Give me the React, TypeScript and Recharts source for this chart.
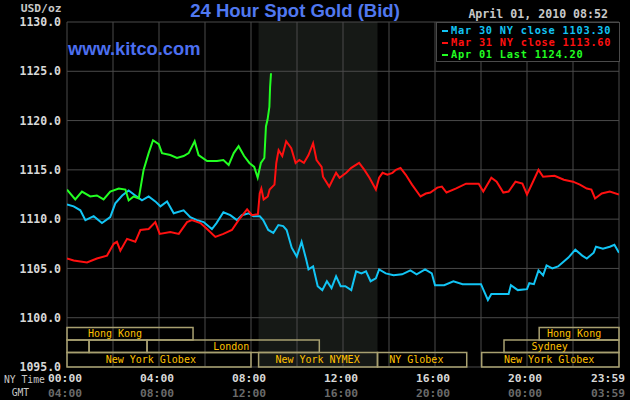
import React from 'react';
import { LineChart, Line, XAxis, YAxis, CartesianGrid, ReferenceArea, Legend } from 'recharts';

// ---------- data ----------
const marT = [0, 0.29, 0.58, 0.8, 1.16, 1.52, 1.88, 2.1, 2.4, 2.68, 2.97, 3.26, 3.55, 3.84, 4.06, 4.35, 4.64, 5.07, 5.36, 5.65,
  5.94, 6.3, 6.5, 6.8, 7.1, 7.39, 7.6, 7.9, 8.1, 8.38, 8.53, 8.75, 8.97, 9.19, 9.4, 9.55, 9.77, 9.99, 10.2, 10.4,
  10.5, 10.7, 10.9, 11.1, 11.3, 11.5, 11.7, 11.9, 12.1, 12.36, 12.57, 12.8, 13.0, 13.2, 13.43, 13.57, 13.86, 14.2, 14.57, 14.93,
  15.2, 15.57, 15.86, 16.0, 16.4, 16.8, 17.2, 18.0, 18.15, 18.3, 18.45, 18.9, 19.2, 19.3, 19.6, 20.0, 20.1, 20.3, 20.5, 20.7,
  20.85, 21.1, 21.35, 21.6, 21.8, 22.1, 22.4, 22.6, 22.9, 23.0, 23.3, 23.6, 23.8, 24];
const mar30Close = [1111.5, 1111.3, 1110.9, 1109.9, 1110.3, 1109.6, 1110.2, 1111.6, 1112.4, 1112.9, 1112.4, 1111.9, 1112.3, 1111.8, 1111.3, 1111.8, 1110.6, 1110.9, 1110.2, 1109.9,
  1109.7, 1109.0, 1109.6, 1110.7, 1110.4, 1109.9, 1110.4, 1110.6, 1110.3, 1110.3, 1109.9, 1108.9, 1108.6, 1109.4, 1109.3, 1108.9, 1107.1, 1106.2, 1107.7, 1105.9,
  1104.9, 1105.2, 1103.2, 1102.8, 1103.7, 1103.0, 1104.2, 1103.2, 1103.2, 1102.8, 1104.7, 1104.5, 1104.7, 1103.7, 1104.0, 1104.9, 1104.5, 1104.3, 1104.4, 1104.8,
  1104.4, 1104.9, 1104.5, 1103.3, 1103.3, 1103.7, 1103.4, 1103.4, 1102.6, 1101.8, 1102.4, 1102.4, 1102.4, 1103.3, 1102.8, 1102.9, 1103.5, 1103.4, 1104.8, 1104.3,
  1105.3, 1105.0, 1105.2, 1105.7, 1106.1, 1106.9, 1106.3, 1106.0, 1106.6, 1107.2, 1107.0, 1107.2, 1107.4, 1106.6];

const mar31T = [0, 0.29, 0.87, 1.3, 1.74, 2.03, 2.17, 2.32, 2.61, 2.97, 3.19, 3.55, 3.84, 4.03, 4.49, 4.86, 5.22, 5.43, 5.8, 6.09,
  6.45, 6.8, 7.17, 7.46, 7.83, 8.04, 8.3, 8.38, 8.45, 8.55, 8.73, 8.81, 9.02, 9.1, 9.2, 9.36, 9.53, 9.75, 9.94, 10.1,
  10.3, 10.5, 10.7, 10.85, 11.07, 11.13, 11.4, 11.7, 11.85, 12.14, 12.36, 12.7, 12.93, 13.15, 13.43, 13.57, 13.72, 13.93, 14.15, 14.3,
  14.5, 14.73, 15.0, 15.37, 15.6, 15.8, 16.1, 16.3, 16.5, 16.9, 17.35, 17.9, 18.1, 18.45, 18.68, 18.97, 19.2, 19.5, 19.8, 20.0,
  20.3, 20.5, 20.7, 21.2, 21.6, 22.0, 22.3, 22.6, 22.8, 22.96, 23.25, 23.6, 24];
const mar31Close = [1106.0, 1105.8, 1105.6, 1106.0, 1106.3, 1107.5, 1107.7, 1106.8, 1108.0, 1107.7, 1108.9, 1109.0, 1109.7, 1108.5, 1108.7, 1108.5, 1109.7, 1109.9, 1109.6, 1109.0,
  1108.2, 1108.5, 1108.9, 1109.9, 1111.0, 1110.4, 1110.5, 1112.6, 1113.1, 1112.0, 1112.3, 1113.0, 1113.5, 1115.7, 1117.0, 1116.4, 1117.9, 1117.2, 1115.7, 1116.0,
  1115.7, 1116.5, 1117.7, 1116.0, 1115.3, 1114.3, 1113.3, 1114.7, 1114.2, 1114.7, 1115.2, 1115.7, 1115.0, 1114.2, 1113.0, 1114.2, 1114.7, 1114.5, 1114.7, 1115.0,
  1115.2, 1114.5, 1113.5, 1112.3, 1112.6, 1112.7, 1113.2, 1113.3, 1112.7, 1113.1, 1113.6, 1113.6, 1112.8, 1114.2, 1113.8, 1112.7, 1112.8, 1113.8, 1113.6, 1112.5,
  1114.0, 1115.0, 1114.3, 1114.4, 1114.0, 1113.8, 1113.5, 1113.1, 1113.0, 1112.1, 1112.6, 1112.8, 1112.5];

const apr01T = [0, 0.36, 0.65, 1.01, 1.3, 1.59, 1.88, 2.25, 2.54, 2.68, 2.9, 3.12, 3.33, 3.55, 3.74, 3.99, 4.13, 4.49, 4.78, 5.07,
  5.29, 5.55, 5.72, 6.09, 6.52, 6.8, 7.03, 7.25, 7.46, 7.7, 7.93, 8.14, 8.29, 8.43, 8.58, 8.65, 8.72, 8.8, 8.83, 8.87];
const apr01Last = [1113.0, 1112.0, 1112.8, 1112.3, 1112.4, 1112.0, 1112.8, 1113.1, 1113.0, 1111.9, 1112.3, 1112.1, 1115.0, 1116.7, 1118.0, 1117.6, 1116.7, 1116.5, 1116.2, 1116.4,
  1116.7, 1117.9, 1116.5, 1115.9, 1115.9, 1116.0, 1115.5, 1116.7, 1117.4, 1116.4, 1115.7, 1115.3, 1114.2, 1115.7, 1116.2, 1119.4, 1120.1, 1121.4, 1123.4, 1124.8];

const seriesNames = ['Mar 30 NY close 1103.30', 'Mar 31 NY close 1113.60', 'Apr 01 Last 1124.20'];
const seriesColors = ['#12c4f4', '#ff1010', '#22ff22'];

const yTicks = [1095, 1100, 1105, 1110, 1115, 1120, 1125, 1130];
const xGridHours = [0, 2, 4, 6, 8, 10, 12, 14, 16, 18, 20, 22, 24];
const xLabelHours = [0, 4, 8, 12, 16, 20, 24];
const nyLabels = ['00:00', '04:00', '08:00', '12:00', '16:00', '20:00', '23:59'];
const gmtLabels = ['04:00', '08:00', '12:00', '16:00', '20:00', '00:00', '03:59'];

// NYMEX floor session (shaded)
const nymexStart = 8.33;
const nymexEnd = 13.5;

// market session rows: [row bottom, row top] in price units
const rowBounds = [[1097.74, 1099.0], [1096.46, 1097.74], [1095.0, 1096.46]];
const sessionNames = ['Hong Kong', 'Hong Kong', '', '', 'London', 'Sydney', 'New York Globex', 'New York NYMEX', 'NY Globex', 'New York Globex'];
const sessionRow = [0, 0, 1, 1, 1, 1, 2, 2, 2, 2];
const sessionStart = [0, 20.53, 0, 0.96, 3.48, 19.0, 0, 8.33, 13.5, 18.03];
const sessionEnd = [5.48, 24, 0.96, 3.48, 10.97, 24, 8.0, 13.5, 17.38, 24];
const sessionLabelAt = [0.91, 20.87, 0, 0, 6.36, 20.2, 1.68, 9.06, 14.01, 19.0];

const toPoints = (t: number[], v: number[]) => t.map((h, i) => ({ t: h, v: v[i] }));
const mar30Data = toPoints(marT, mar30Close);
const mar31Data = toPoints(mar31T, mar31Close);
const apr01Data = toPoints(apr01T, apr01Last);

const MONO = 'DejaVu Sans Mono, monospace';
const SANS = 'Liberation Sans, Arial, sans-serif';

const XTick = (props: any) => {
  const { x, y, payload } = props;
  const i = xLabelHours.indexOf(payload.value);
  if (i < 0) return <g />;
  const last = i === xLabelHours.length - 1;
  const tx = last ? x + 6 : x - 2;
  const anchor = last ? 'end' : 'middle';
  return (
    <g>
      <text x={tx} y={y + 7} textAnchor={anchor} fill="#d8d8d8" fontFamily={MONO} fontWeight="bold" fontSize={11.3}>
        {nyLabels[i]}
      </text>
      <text x={tx} y={y + 22} textAnchor={anchor} fill="#6a6a6a" fontFamily={MONO} fontWeight="bold" fontSize={11.3}>
        {gmtLabels[i]}
      </text>
    </g>
  );
};

const LegendBox = () => (
  <div
    style={{
      width: 184,
      height: 40,
      boxSizing: 'border-box',
      border: '1px solid #4a4a4a',
      background: '#000',
      paddingLeft: 5,
      paddingTop: 0.5,
      fontFamily: MONO,
      fontWeight: 'bold',
      fontSize: 10.3,
      letterSpacing: '0.77px',
      lineHeight: '12.1px',
    }}
  >
    {seriesNames.map((n, i) => (
      <div key={n} style={{ color: seriesColors[i], whiteSpace: 'nowrap', height: 12.1 }}>
        <span
          style={{
            display: 'inline-block',
            width: 6,
            height: 2,
            background: seriesColors[i],
            verticalAlign: 'middle',
            marginRight: 3,
          }}
        />
        {n}
      </div>
    ))}
  </div>
);

const makeSessionLabel = (i: number) => (p: any) => {
  const vb = p.viewBox || {};
  if (!sessionNames[i]) return <g />;
  const w = vb.width || 0;
  const span = sessionEnd[i] - sessionStart[i];
  const lx = vb.x + ((sessionLabelAt[i] - sessionStart[i]) / span) * w;
  return (
    <text x={lx} y={vb.y + vb.height / 2 + 3.6} fill="#ffc000" fontFamily={MONO} fontSize={10}>
      {sessionNames[i]}
    </text>
  );
};

export default function App() {
  return (
    <div style={{ position: 'absolute', left: 0, top: 0, width: 630, height: 400, background: '#000' }}>
      <LineChart width={630} height={400} margin={{ top: 22, right: 11, bottom: 0, left: 0 }} style={{ background: '#000' }}>
        <ReferenceArea
          x1={nymexStart}
          x2={nymexEnd}
          y1={1095}
          y2={1130}
          fill="#161916"
          fillOpacity={1}
          stroke="none"
          ifOverflow="hidden"
          {...({ zIndex: -150 } as any)}
        />
        <CartesianGrid stroke="#4a4a4a" strokeWidth={1} />
        <XAxis
          dataKey="t"
          type="number"
          domain={[0, 24]}
          ticks={xGridHours}
          interval={0}
          tick={<XTick />}
          tickLine={false}
          axisLine={false}
          height={33}
          allowDataOverflow
        />
        <YAxis
          type="number"
          domain={[1095, 1130]}
          ticks={yTicks}
          interval={0}
          tickFormatter={(v: number) => v.toFixed(1)}
          tick={{ fill: '#d8d8d8', fontFamily: MONO, fontWeight: 'bold', fontSize: 11.5 }}
          tickLine={false}
          axisLine={false}
          tickSize={4}
          tickMargin={2}
          width={67}
          allowDataOverflow
        />
        {sessionNames.map((n, i) => (
          <ReferenceArea
            key={'s' + i}
            x1={sessionStart[i]}
            x2={sessionEnd[i]}
            y1={rowBounds[sessionRow[i]][0]}
            y2={rowBounds[sessionRow[i]][1]}
            fill="none"
            fillOpacity={0}
            stroke="#a8a070"
            strokeWidth={1.5}
            label={makeSessionLabel(i)}
          />
        ))}
        <Line data={mar30Data} dataKey="v" name={seriesNames[0]} stroke={seriesColors[0]} strokeWidth={2} dot={false} activeDot={false} isAnimationActive={false} type="linear" />
        <Line data={mar31Data} dataKey="v" name={seriesNames[1]} stroke={seriesColors[1]} strokeWidth={2} dot={false} activeDot={false} isAnimationActive={false} type="linear" />
        <Line data={apr01Data} dataKey="v" name={seriesNames[2]} stroke={seriesColors[2]} strokeWidth={2} dot={false} activeDot={false} isAnimationActive={false} type="linear" />
        <Legend
          layout="vertical"
          align="center"
          verticalAlign="middle"
          content={<LegendBox />}
          wrapperStyle={{ left: 436, top: 22, width: 184, height: 40 }}
        />
        <text x={295} y={16.7} textAnchor="middle" fill="#5078f0" fontFamily={SANS} fontWeight="bold" fontSize={18.5}>
          24 Hour Spot Gold (Bid)
        </text>
        <text x={68} y={55} fill="#4c6ff0" fontFamily={SANS} fontWeight="bold" fontSize={18.3}>
          www.kitco.com
        </text>
        <text x={608} y={18.3} textAnchor="end" fill="#c8c8c8" fontFamily={MONO} fontWeight="bold" fontSize={11.6}>
          April 01, 2010 08:52
        </text>
        <text x={20.7} y={11.7} fill="#c8c8c8" fontFamily={MONO} fontWeight="bold" fontSize={11.3}>
          USD/oz
        </text>
        <text x={4} y={383} fill="#c8c8c8" fontFamily={MONO} fontSize={9.7}>
          NY Time
        </text>
        <text x={11.7} y={396} fill="#c8c8c8" fontFamily={MONO} fontSize={9.7}>
          GMT
        </text>
      </LineChart>
    </div>
  );
}
